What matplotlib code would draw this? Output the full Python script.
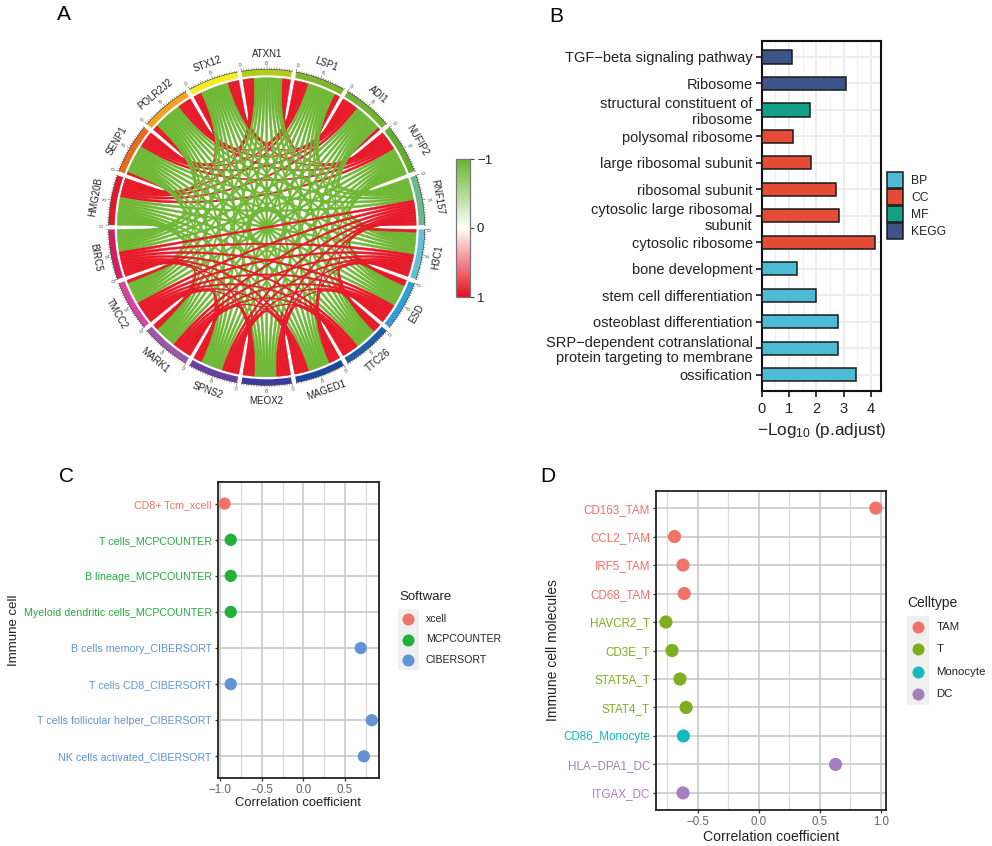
import numpy as np
import matplotlib
matplotlib.use("Agg")
import matplotlib.pyplot as plt
from matplotlib.path import Path
from matplotlib.patches import PathPatch, Wedge, Patch, Rectangle
from matplotlib.colors import LinearSegmentedColormap, Normalize
from matplotlib.cm import ScalarMappable
from matplotlib.ticker import MultipleLocator

plt.rcParams['font.family'] = ['Liberation Sans', 'DejaVu Sans']
plt.rcParams['mathtext.default'] = 'regular'
plt.rcParams['axes.unicode_minus'] = True

# ---- Panel A data
genes = ['ATXN1', 'LSP1', 'ADI1', 'NUFIP2', 'RNF157', 'H3C1', 'ESD', 'TTC26', 'MAGED1',
         'MEOX2', 'SPNS2', 'MARK1', 'TMCC2', 'BIRC5', 'HMG20B', 'SENP1', 'POLR2J2', 'STX12']
gene_colors = ['#B4CB1C', '#7BB62B', '#70B32C', '#62AF2E', '#6DB98F', '#62C1D2', '#2E9FD9',
               '#1F5CA9', '#1C47A0', '#3B3B9C', '#6A40A2', '#9C58A9', '#D842A1', '#D81C63',
               '#E2172B', '#EE6A1B', '#F6A11F', '#F3EC20']
cluster_upper = ['HMG20B', 'SENP1', 'POLR2J2', 'STX12', 'ATXN1', 'LSP1', 'ADI1', 'NUFIP2']
cluster_lower = ['RNF157', 'H3C1', 'ESD', 'TTC26', 'MAGED1', 'MEOX2', 'SPNS2', 'MARK1', 'TMCC2', 'BIRC5']
same_cluster_corr = 0.95
other_cluster_corr = -0.95
sector_tick_labels = ['0', '8']

# ---- Panel B data
go_terms = ['ossification', 'SRP\u2212dependent cotranslational\nprotein targeting to membrane',
            'osteoblast differentiation', 'stem cell differentiation', 'bone development',
            'cytosolic ribosome', 'cytosolic large ribosomal\nsubunit', 'ribosomal subunit',
            'large ribosomal subunit', 'polysomal ribosome',
            'structural constituent of\nribosome', 'Ribosome', 'TGF\u2212beta signaling pathway']
go_values = [3.46, 2.79, 2.79, 1.98, 1.29, 4.15, 2.84, 2.73, 1.80, 1.15, 1.78, 3.08, 1.10]
go_class = ['BP', 'BP', 'BP', 'BP', 'BP', 'CC', 'CC', 'CC', 'CC', 'CC', 'MF', 'KEGG', 'KEGG']
go_palette = {'BP': '#4DBBD5', 'CC': '#E64B35', 'MF': '#12A187', 'KEGG': '#3C5488'}

# ---- Panel C data
c_cells = ['CD8+ Tcm_xcell', 'T cells_MCPCOUNTER', 'B lineage_MCPCOUNTER',
           'Myeloid dendritic cells_MCPCOUNTER', 'B cells memory_CIBERSORT', 'T cells CD8_CIBERSORT',
           'T cells follicular helper_CIBERSORT', 'NK cells activated_CIBERSORT']
c_values = [-0.948, -0.875, -0.875, -0.875, 0.69, -0.875, 0.823, 0.727]
c_software = ['xcell', 'MCPCOUNTER', 'MCPCOUNTER', 'MCPCOUNTER', 'CIBERSORT', 'CIBERSORT', 'CIBERSORT', 'CIBERSORT']
c_palette = {'xcell': '#F0736A', 'MCPCOUNTER': '#22B03A', 'CIBERSORT': '#6194D6'}

# ---- Panel D data
d_cells = ['CD163_TAM', 'CCL2_TAM', 'IRF5_TAM', 'CD68_TAM', 'HAVCR2_T', 'CD3E_T', 'STAT5A_T', 'STAT4_T',
           'CD86_Monocyte', 'HLA\u2212DPA1_DC', 'ITGAX_DC']
d_values = [0.96, -0.69, -0.62, -0.61, -0.76, -0.71, -0.645, -0.595, -0.617, 0.63, -0.62]
d_types = ['TAM', 'TAM', 'TAM', 'TAM', 'T', 'T', 'T', 'T', 'Monocyte', 'DC', 'DC']
d_palette = {'TAM': '#F0736A', 'T': '#7CAE1E', 'Monocyte': '#14BAC0', 'DC': '#A57FC0'}

W, H = 992, 846
fig = plt.figure(figsize=(W / 100, H / 100), dpi=100, facecolor='#FEFEFE')


def axpx(l, t, r, b, **kw):
    return fig.add_axes([l / W, 1 - b / H, (r - l) / W, (b - t) / H], **kw)


def T(x, y, s, **kw):
    kw.setdefault('ha', 'center')
    kw.setdefault('va', 'center')
    return fig.text(x / W, 1 - y / H, s, **kw)


for s, x, y in [('A', 64, 15), ('B', 556, 17), ('C', 66, 476), ('D', 548, 476)]:
    T(x, y, s, fontsize=15, color='black')

# ---------------- Panel A: chord diagram
cx, cy, half = 266.7, 227.3, 185
axA = axpx(cx - half, cy - half, cx + half, cy + half)
axA.set_xlim(-half, half)
axA.set_ylim(-half, half)
axA.axis('off')

R_link, R_in, R_out = 149.5, 152, 158
R_bend = 65
EDGE_SPREAD = 1.0
SECT_SPAN = 18.4
N = len(genes)
SLOTS = N - 1
slot_w = SECT_SPAN / SLOTS
cmap = LinearSegmentedColormap.from_list('corr', ['#68B42B', '#FFFFFF', '#E60F1E'])
norm = Normalize(-1, 1)


def pol(r, deg):
    a = np.deg2rad(deg)
    return np.array([r * np.cos(a), r * np.sin(a)])


def sector_start(i):
    return 90 - 360 / N * i + SECT_SPAN / 2


def slot_edges(i, k):
    s = sector_start(i)
    return s - (k - 1) * slot_w, s - k * slot_w


def ribbon(i, j, color, z):
    ki, kj = (i - j) % N, (j - i) % N
    a0, a1 = slot_edges(i, ki)
    b0, b1 = slot_edges(j, kj)
    ma, mb = (a0 + a1) / 2, (b0 + b1) / 2

    def bend(m, e):
        return pol(R_bend, m + EDGE_SPREAD * (e - m))
    verts = [pol(R_link, a0), pol(R_link, ma), pol(R_link, a1),
             bend(ma, a1), bend(mb, b0), pol(R_link, b0),
             pol(R_link, mb), pol(R_link, b1),
             bend(mb, b1), bend(ma, a0), pol(R_link, a0)]
    codes = [Path.MOVETO, Path.CURVE3, Path.CURVE3,
             Path.CURVE4, Path.CURVE4, Path.CURVE4,
             Path.CURVE3, Path.CURVE3,
             Path.CURVE4, Path.CURVE4, Path.CURVE4]
    axA.add_patch(PathPatch(Path(verts, codes), fc=color, ec=color, lw=0.35, zorder=z))


for i in range(N):
    for j in range(i + 1, N):
        gi, gj = genes[i], genes[j]
        up_i, up_j = gi in cluster_upper, gj in cluster_upper
        corr = same_cluster_corr if up_i == up_j else other_cluster_corr
        z = 3 if up_i != up_j else (2 if up_i else 4)
        ribbon(i, j, cmap(norm(corr)), z)

for i, (g, col) in enumerate(zip(genes, gene_colors)):
    s = sector_start(i)
    e = s - SECT_SPAN
    axA.add_patch(Wedge((0, 0), R_out, e, s, width=R_out - R_in, fc=col, ec='none', zorder=5))
    th = np.linspace(e, s, 40)
    axA.plot(R_out * np.cos(np.deg2rad(th)), R_out * np.sin(np.deg2rad(th)), color='#333333', lw=0.4, zorder=6)
    for m in range(21):
        a = s - m * SECT_SPAN / 20
        major = m in (0, 10)
        p0, p1 = pol(R_out, a), pol(R_out + (3 if major else 1.4), a)
        axA.plot([p0[0], p1[0]], [p0[1], p1[1]], color='#444444', lw=0.35, zorder=6)
        if major:
            q = pol(R_out + 6, a)
            axA.text(q[0], q[1], sector_tick_labels[0 if m == 0 else 1], fontsize=3.8, color='#444444',
                     ha='center', va='center', rotation=a - 90 if np.sin(np.deg2rad(a)) >= 0 else a + 90)
    mid = (s + e) / 2
    p = pol(173.5, mid)
    rot = mid - 90 if np.sin(np.deg2rad(mid)) >= 0 else mid + 90
    axA.text(p[0], p[1], g, fontsize=7, color='#222222', ha='center', va='center', rotation=rot)

caxA = axpx(456, 159, 470, 297)
cb = fig.colorbar(ScalarMappable(norm=norm, cmap=cmap), cax=caxA)
caxA.invert_yaxis()
cb.set_ticks([-1, 0, 1])
cb.set_ticklabels(['\u22121', '0', '1'])
cb.ax.tick_params(labelsize=9.5, length=3, width=0.8, color='#444444', pad=2, labelcolor='#222222')
cb.outline.set_edgecolor('#777777')
cb.outline.set_linewidth(0.9)

# ---------------- Panel B: bars
axB = axpx(761.7, 41, 880.7, 390.7)
yB = np.arange(1, len(go_terms) + 1)
axB.set_axisbelow(True)
axB.barh(yB, go_values, height=0.5, color=[go_palette[c] for c in go_class], edgecolor='#1A1A1A', linewidth=1.1, zorder=3)
axB.set_xlim(0, 4.36)
axB.set_ylim(0.4, 13.6)
axB.xaxis.set_major_locator(MultipleLocator(1))
axB.xaxis.set_minor_locator(MultipleLocator(0.5))
axB.grid(which='major', color='#EBEBEB', lw=1.3)
axB.grid(which='minor', axis='x', color='#EFEFEF', lw=0.8)
axB.set_yticks(yB, go_terms)
axB.tick_params(axis='y', labelsize=10.5, length=4, width=1.1, pad=2.5, labelcolor='#222222')
axB.tick_params(axis='x', labelsize=10.5, length=4, width=1.1, pad=4, labelcolor='#222222')
axB.tick_params(which='minor', length=0)
for t in axB.get_yticklabels():
    t.set_linespacing(1.15)
for sp in axB.spines.values():
    sp.set_linewidth(1.5)
    sp.set_color('#111111')
T(821.7, 430, '\u2212Log$_{10}$ (p.adjust)', fontsize=12.3, color='#222222')
hB = [Patch(fc=go_palette[k], ec='#1A1A1A', lw=1.1, label=k) for k in go_palette]
fig.legend(handles=hB, loc='upper left', bbox_to_anchor=(887 / W, 1 - 172 / H), frameon=False, fontsize=8.7,
           handlelength=1.33, handleheight=1.67, labelspacing=0.08, handletextpad=0.65, borderpad=0, borderaxespad=0,
           labelcolor='#222222')


# ---------------- Panels C, D: dot plots
def dotplot(ax, labels, values, groups, palette, xlim, xticks, size, lab_fs, tick_fs):
    y = np.arange(len(labels), 0, -1)
    ax.set_axisbelow(True)
    ax.scatter(values, y, s=size, c=[palette[g] for g in groups], zorder=3, linewidths=0, clip_on=False)
    ax.set_xlim(*xlim)
    ax.set_ylim(0.4, len(labels) + 0.6)
    ax.set_xticks(xticks)
    ax.xaxis.set_minor_locator(MultipleLocator(0.25))
    ax.set_yticks(y, labels)
    ax.grid(which='major', color='#C9C9C9', lw=1.2)
    ax.grid(which='minor', axis='x', color='#DADADA', lw=0.9)
    ax.tick_params(axis='y', labelsize=lab_fs, length=2.5, width=0.9, pad=2, color='#333333')
    ax.tick_params(axis='x', labelsize=tick_fs, length=2.5, width=0.9, pad=2, color='#333333', labelcolor='#666666')
    ax.tick_params(which='minor', length=0)
    for t, g in zip(ax.get_yticklabels(), groups):
        t.set_color(palette[g])
    for sp in ax.spines.values():
        sp.set_linewidth(1.3)
        sp.set_color('#222222')


def dotlegend(x, y, palette, title, bg, fs, tfs):
    fig.add_artist(Rectangle((bg[0] / W, 1 - bg[3] / H), (bg[2] - bg[0]) / W, (bg[3] - bg[1]) / H,
                             transform=fig.transFigure, fc='#F0F0F0', ec='none', zorder=0))
    T(x, y, title, ha='left', fontsize=tfs, color='#222222')
    n = len(palette)
    ys = np.linspace(bg[1] + (bg[3] - bg[1]) / n / 2, bg[3] - (bg[3] - bg[1]) / n / 2, n)
    xc = (bg[0] + bg[2]) / 2
    axL = axpx(bg[0], bg[1], bg[2], bg[3])
    axL.set_xlim(bg[0], bg[2])
    axL.set_ylim(bg[3], bg[1])
    axL.axis('off')
    for (k, c), yy in zip(palette.items(), ys):
        axL.scatter([xc], [yy], s=75, c=c, linewidths=0, clip_on=False)
        T(bg[2] + 7.5, yy, k, ha='left', fontsize=fs, color='#222222')


axC = axpx(218, 482, 378.7, 778)
dotplot(axC, c_cells, c_values, c_software, c_palette, (-1.028, 0.906), [-1, -0.5, 0, 0.5], 78, 7.65, 8.4)
T(298, 803, 'Correlation coefficient', fontsize=9.4, color='#222222')
T(14, 630, 'Immune cell', fontsize=9.5, rotation=90, color='#222222')
dotlegend(399, 597, c_palette, 'Software', (398, 609, 418.5, 670), 7.6, 9.5)

axD = axpx(656.3, 491, 885.7, 810)
dotplot(axD, d_cells, d_values, d_types, d_palette, (-0.839, 1.041), [-0.5, 0, 0.5, 1], 90, 8.4, 8.3)
T(771, 837, 'Correlation coefficient', fontsize=10.1, color='#222222')
T(553, 650, 'Immune cell molecules', fontsize=10, rotation=90, color='#222222')
dotlegend(907, 603, d_palette, 'Celltype', (907, 616, 929, 705), 8.2, 10)

fig.savefig('out.png', dpi=100, facecolor=fig.get_facecolor())
